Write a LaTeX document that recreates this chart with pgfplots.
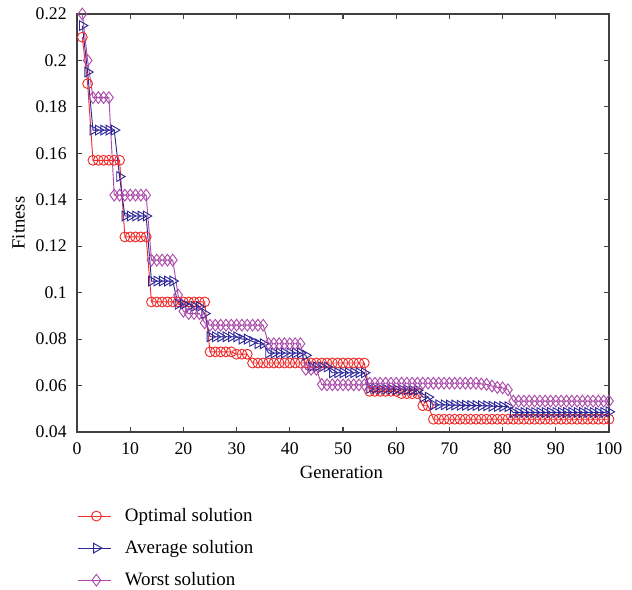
\documentclass[border=0pt]{standalone}
\usepackage{fontspec}
\setmainfont{Liberation Serif}
\usepackage{pgfplots}
\usepackage{pgfplotstable}
\pgfplotsset{compat=1.18}
\definecolor{cOpt}{RGB}{240,45,45}
\definecolor{cAvg}{RGB}{45,40,150}
\definecolor{cWst}{RGB}{170,75,170}
\pgfplotstableread{
g opt avg wst
1 0.210 0.215 0.220
2 0.190 0.195 0.200
3 0.157 0.170 0.184
4 0.157 0.170 0.184
5 0.157 0.170 0.184
6 0.157 0.170 0.184
7 0.157 0.170 0.142
8 0.157 0.150 0.142
9 0.124 0.133 0.142
10 0.124 0.133 0.142
11 0.124 0.133 0.142
12 0.124 0.133 0.142
13 0.124 0.133 0.142
14 0.096 0.105 0.114
15 0.096 0.105 0.114
16 0.096 0.105 0.114
17 0.096 0.105 0.114
18 0.096 0.105 0.114
19 0.096 0.095 0.099
20 0.096 0.095 0.092
21 0.096 0.094 0.091
22 0.096 0.094 0.091
23 0.096 0.094 0.091
24 0.096 0.091 0.087
25 0.0745 0.081 0.086
26 0.0745 0.081 0.086
27 0.0745 0.081 0.086
28 0.0745 0.081 0.086
29 0.0745 0.081 0.086
30 0.0735 0.081 0.086
31 0.0735 0.080 0.086
32 0.0735 0.080 0.086
33 0.0697 0.079 0.086
34 0.0697 0.078 0.086
35 0.0697 0.078 0.086
36 0.0697 0.074 0.078
37 0.0697 0.074 0.078
38 0.0697 0.074 0.078
39 0.0697 0.074 0.078
40 0.0697 0.074 0.078
41 0.0697 0.074 0.078
42 0.0697 0.074 0.078
43 0.0697 0.073 0.067
44 0.0697 0.068 0.067
45 0.0697 0.068 0.067
46 0.0697 0.068 0.0605
47 0.0697 0.068 0.0603
48 0.0697 0.0655 0.0603
49 0.0697 0.0655 0.0603
50 0.0697 0.0655 0.0603
51 0.0697 0.0655 0.0603
52 0.0697 0.0655 0.0603
53 0.0697 0.0655 0.0603
54 0.0697 0.0655 0.0603
55 0.0575 0.0588 0.061
56 0.0575 0.0587 0.061
57 0.0575 0.0586 0.061
58 0.0575 0.0585 0.061
59 0.0575 0.0584 0.061
60 0.0575 0.0583 0.061
61 0.0565 0.0582 0.061
62 0.0565 0.0581 0.061
63 0.0565 0.0580 0.061
64 0.0565 0.0580 0.061
65 0.0513 0.055 0.061
66 0.0513 0.055 0.061
67 0.0455 0.0517 0.061
68 0.0455 0.0517 0.061
69 0.0455 0.0517 0.061
70 0.0455 0.0516 0.061
71 0.0455 0.0516 0.061
72 0.0455 0.0515 0.061
73 0.0455 0.0515 0.061
74 0.0455 0.0514 0.061
75 0.0455 0.0514 0.061
76 0.0455 0.0513 0.0607
77 0.0455 0.0513 0.0605
78 0.0455 0.0511 0.0598
79 0.0455 0.0510 0.0592
80 0.0455 0.0510 0.0590
81 0.0455 0.0509 0.0582
82 0.0455 0.0484 0.0533
83 0.0455 0.0484 0.0533
84 0.0455 0.0484 0.0533
85 0.0455 0.0484 0.0533
86 0.0455 0.0484 0.0533
87 0.0455 0.0484 0.0533
88 0.0455 0.0484 0.0533
89 0.0455 0.0484 0.0533
90 0.0455 0.0484 0.0533
91 0.0455 0.0484 0.0533
92 0.0455 0.0484 0.0533
93 0.0455 0.0484 0.0533
94 0.0455 0.0484 0.0533
95 0.0455 0.0484 0.0533
96 0.0455 0.0484 0.0533
97 0.0455 0.0484 0.0533
98 0.0455 0.0484 0.0533
99 0.0455 0.0484 0.0533
100 0.0455 0.0487 0.0533
}\datatable
\begin{document}
\begin{tikzpicture}
\begin{axis}[
  scale only axis,
  width=399pt, height=313.5pt,
  xmin=0, xmax=100, ymin=0.04, ymax=0.22,
  xtick={0,10,...,100},
  ytick={0.04,0.06,...,0.221},
  yticklabels={0.04,0.06,0.08,0.1,0.12,0.14,0.16,0.18,0.2,0.22},
  tick align=inside,
  major tick length=4pt,
  /pgf/number format/assume math mode=true,
  tick label style={font=\fontsize{13.3}{15}\selectfont, inner sep=0pt},
  xticklabel shift=7.5pt,
  yticklabel shift=7.5pt,
  label style={font=\fontsize{14}{16}\selectfont, inner sep=0pt},
  xlabel={Generation},
  ylabel={Fitness},
  xlabel style={at={(axis description cs:0.497,-0.1124)}, anchor=base},
  ylabel style={at={(axis description cs:-0.0977,0.5)}, anchor=south, rotate=0},
  axis line style={line width=0.8pt, black!75},
  every tick/.style={black!75, line width=0.8pt},
  legend style={at={(axis description cs:0,-0.176)}, anchor=north west, draw=none, inner sep=0pt,
    font=\fontsize{14.2}{16}\selectfont, row sep=8.7pt,
    nodes={inner sep=2pt},
    /tikz/every odd column/.append style={column sep=8pt}},
  legend cell align=left,
  legend image code/.code={\draw[#1, mark=none] (0pt,0pt) -- (25pt,0pt); \draw[#1, only marks] plot coordinates {(14pt,0pt)};},
  every axis plot/.append style={line width=0.7pt},
]
\addplot[cOpt, mark=o, mark size=3.7pt] table[x=g, y=opt] {\datatable};
\addlegendentry{Optimal solution}
\addplot[cAvg, mark=triangle, mark size=4.2pt, mark options={rotate=-90}] table[x=g, y=avg] {\datatable};
\addlegendentry{Average solution}
\addplot[cWst, mark=diamond, mark size=4.4pt] table[x=g, y=wst] {\datatable};
\addlegendentry{Worst solution}
\end{axis}
\pgfresetboundingbox
\path ([shift={(-57.75pt,-118.5pt)}]current axis.south west) rectangle ([shift={(17.25pt,10.5pt)}]current axis.north east);
\end{tikzpicture}
\end{document}
